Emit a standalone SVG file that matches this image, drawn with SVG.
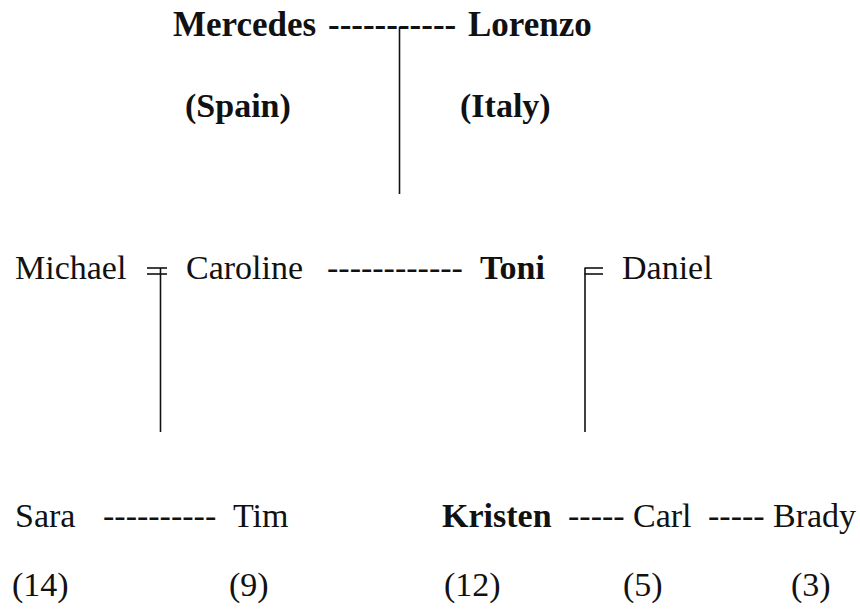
<svg xmlns="http://www.w3.org/2000/svg" width="860" height="615" viewBox="0 0 860 615">
<style>
text{font-family:"Liberation Serif","Times New Roman",serif;font-size:34px;fill:#111}
.b{font-weight:bold}
.t{font-size:35px}
.ln{stroke:#111;stroke-width:1.6;fill:none}
</style>
<rect width="860" height="615" fill="#fff"/>
<g id="connectors">
<text class="b t" x="328" y="36">-----------</text>
<line class="ln" x1="399.5" y1="27" x2="399.5" y2="194"/>
<text x="327" y="279">------------</text>
<line class="ln" x1="147" y1="268" x2="167" y2="268"/>
<line class="ln" x1="147" y1="274" x2="167" y2="274"/>
<line class="ln" x1="160.5" y1="268" x2="160.5" y2="432"/>
<line class="ln" x1="584.5" y1="268" x2="603" y2="268"/>
<line class="ln" x1="584.5" y1="274" x2="603" y2="274"/>
<line class="ln" x1="585" y1="268" x2="585" y2="432"/>
<text x="103" y="527">----------</text>
<text x="568" y="527">-----</text>
<text x="708" y="527">-----</text>
</g>
<g id="mercedes"><text class="b t" x="173" y="36">Mercedes</text><text class="b" x="185" y="117">(Spain)</text></g>
<g id="lorenzo"><text class="b t" x="468" y="36">Lorenzo</text><text class="b" x="460" y="117">(Italy)</text></g>
<g id="michael"><text x="15" y="279">Michael</text></g>
<g id="caroline"><text x="186" y="279">Caroline</text></g>
<g id="toni"><text class="b" x="480" y="279">Toni</text></g>
<g id="daniel"><text x="622" y="279">Daniel</text></g>
<g id="sara"><text x="15" y="527">Sara</text><text x="12" y="596">(14)</text></g>
<g id="tim"><text x="233" y="527">Tim</text><text x="229" y="596">(9)</text></g>
<g id="kristen"><text class="b" x="442" y="527">Kristen</text><text x="444" y="596">(12)</text></g>
<g id="carl"><text x="633" y="527">Carl</text><text x="623" y="596">(5)</text></g>
<g id="brady"><text x="773" y="527">Brady</text><text x="791" y="596">(3)</text></g>
</svg>
